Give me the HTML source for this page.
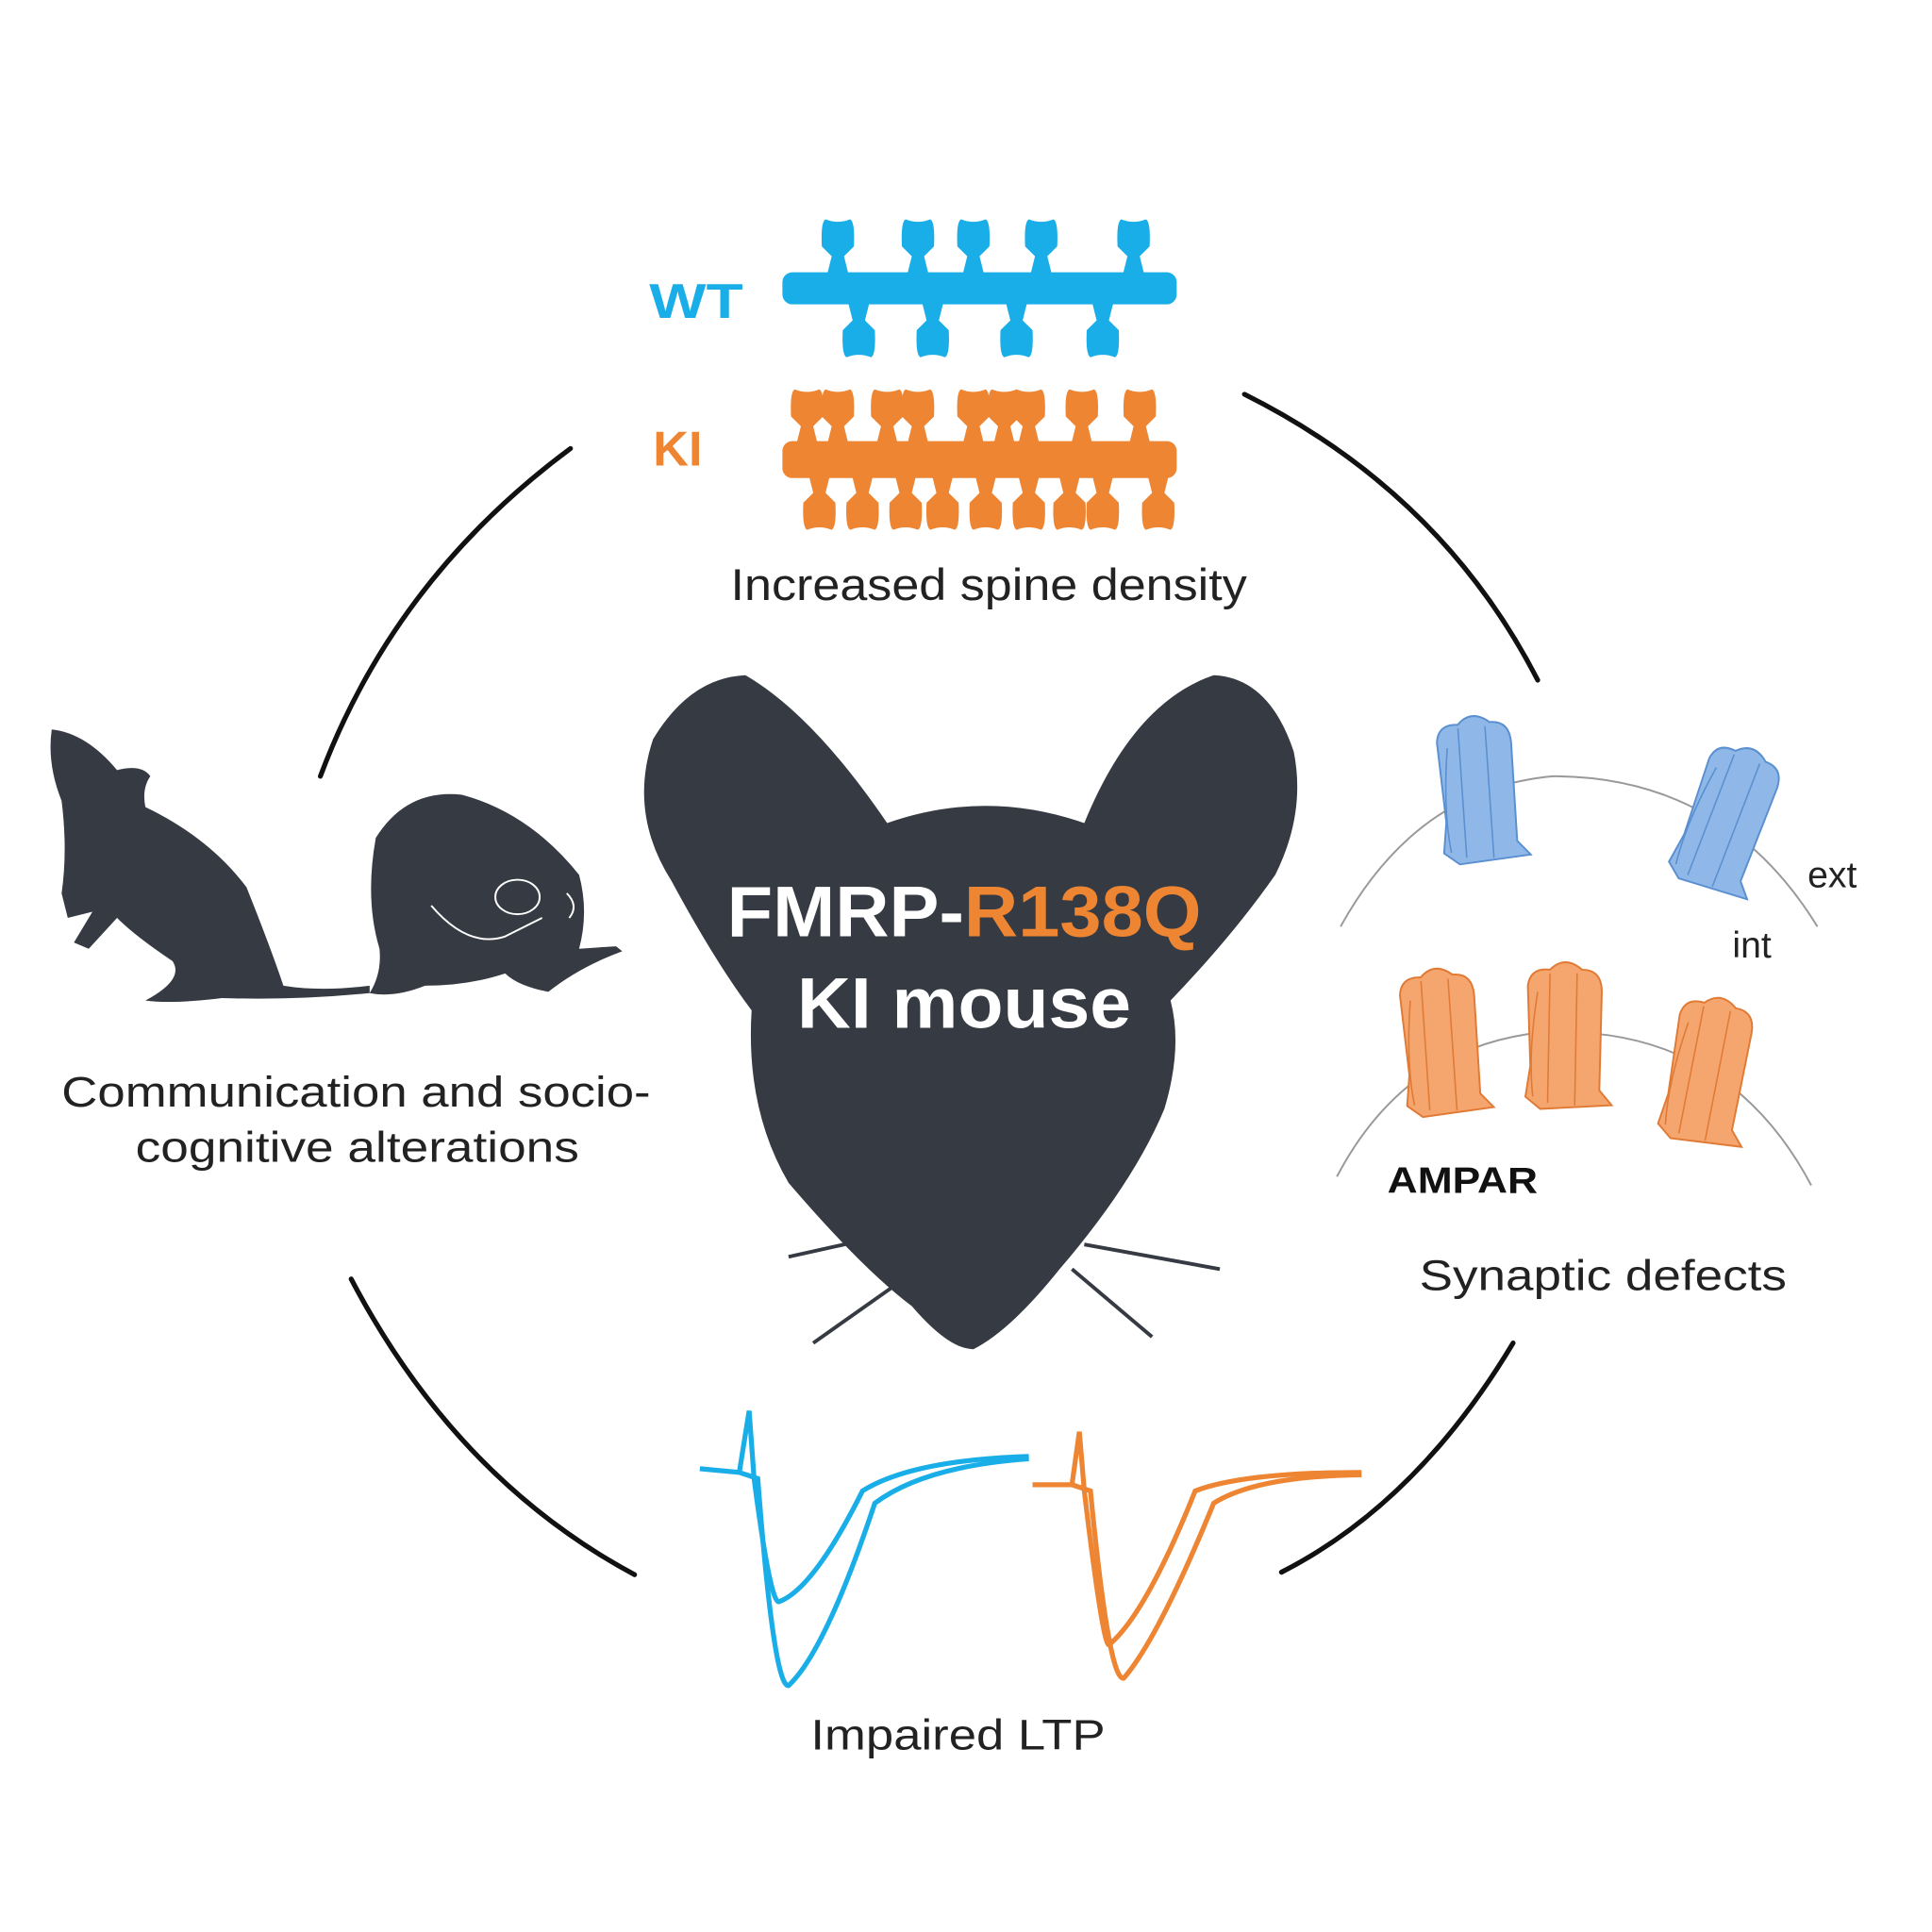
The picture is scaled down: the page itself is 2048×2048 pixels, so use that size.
<!DOCTYPE html>
<html><head><meta charset="utf-8"><style>
html,body{margin:0;padding:0;background:#fff}
svg{display:block}
text{font-family:"Liberation Sans",sans-serif}
</style></head><body>
<svg width="2048" height="2048" viewBox="0 0 1568 1568" xmlns="http://www.w3.org/2000/svg">
<rect width="1568" height="1568" fill="#fff"/>
<g fill="none" stroke="#111" stroke-width="4" stroke-linecap="round">
<path d="M463,364 Q320,470 260,630"/>
<path d="M1010,320 Q1170,400 1248,552"/>
<path d="M1228,1090 Q1150,1220 1040,1276"/>
<path d="M285,1038 Q370,1200 515,1278"/>
</g>
<g fill="#1aaee8">
<rect x="635" y="221" width="320" height="26" rx="8"/>
</g>
<g fill="#1aaee8" id="wtsp"></g>
<text x="527" y="258" font-size="40" font-weight="bold" fill="#1aaee8" textLength="76" lengthAdjust="spacingAndGlyphs">WT</text>
<g fill="#ee8533">
<rect x="635" y="358" width="320" height="30" rx="8"/>
</g>
<g fill="#ee8533" id="kisp"></g>
<text x="530" y="378" font-size="40" font-weight="bold" fill="#ee8533">KI</text>
<text x="593" y="487" font-size="36" fill="#222" textLength="419" lengthAdjust="spacingAndGlyphs">Increased spine density</text>
<path fill="#363a42" d="M720,668 Q660,580 605,548 Q560,550 530,600 Q510,660 545,715 Q580,780 610,820 Q605,900 640,960 Q700,1030 740,1060 Q770,1095 790,1095 Q820,1080 860,1030 Q920,960 945,900 Q960,850 950,812 Q1000,760 1035,710 Q1060,660 1050,610 Q1030,550 985,548 Q920,570 880,668 Q800,640 720,668 Z"/>
<g stroke="#363a42" stroke-width="3" fill="none">
<path d="M730,1000 L640,1020"/><path d="M745,1030 L660,1090"/><path d="M880,1010 L990,1030"/><path d="M870,1030 L935,1085"/>
</g>
<text x="590" y="760" font-size="58" font-weight="bold" fill="#fff" textLength="385" lengthAdjust="spacingAndGlyphs">FMRP-<tspan fill="#ee8533">R138Q</tspan></text>
<text x="647" y="834" font-size="58" font-weight="bold" fill="#fff" textLength="271" lengthAdjust="spacingAndGlyphs">KI mouse</text>
<path fill="#363a42" d="M42,592 Q70,595 95,625 Q115,620 122,630 Q115,640 118,655 Q170,680 200,720 Q220,770 230,800 Q260,805 300,800 L300,806 Q240,812 180,810 Q140,815 118,812 Q150,795 140,780 Q110,760 95,745 L72,770 L60,765 L75,740 L55,745 L50,725 Q55,690 50,650 Q38,620 42,592 Z"/>
<path fill="#363a42" d="M305,680 Q330,640 375,645 Q430,660 470,710 Q478,740 470,770 L500,768 L505,772 Q470,785 445,805 Q420,800 410,790 Q380,800 345,800 Q320,810 300,806 Q310,790 308,770 Q296,730 305,680 Z"/>
<g stroke="#fff" stroke-width="1.5" fill="none">
<path d="M350,735 Q380,770 410,760 L440,745"/><ellipse cx="420" cy="728" rx="18" ry="14"/><path d="M460,725 Q470,735 462,745"/>
</g>
<text x="50" y="898" font-size="35" fill="#222" textLength="478" lengthAdjust="spacingAndGlyphs">Communication and socio-</text>
<text x="110" y="943" font-size="35" fill="#222" textLength="360" lengthAdjust="spacingAndGlyphs">cognitive alterations</text>
<g fill="none" stroke="#999" stroke-width="1.5">
<path d="M1088,752 Q1150,640 1260,630 Q1400,630 1475,752"/>
<path d="M1085,955 Q1140,850 1250,838 Q1400,830 1470,962"/>
</g>
<g id="rec"></g>
<text x="1467" y="720" font-size="30" fill="#222">ext</text>
<text x="1406" y="777" font-size="30" fill="#222">int</text>
<text x="1126" y="968" font-size="30" font-weight="bold" fill="#111" textLength="122" lengthAdjust="spacingAndGlyphs">AMPAR</text>
<text x="1152" y="1047" font-size="35" fill="#222" textLength="298" lengthAdjust="spacingAndGlyphs">Synaptic defects</text>
<g fill="none" stroke="#1aaee8" stroke-width="4">
<path d="M568,1192 L600,1195 L608,1145 L612,1200 Q625,1300 632,1300 Q660,1290 700,1210 Q740,1185 835,1182"/>
<path d="M600,1195 L615,1200 Q628,1370 640,1368 Q670,1340 710,1220 Q750,1190 835,1184"/>
</g>
<g fill="none" stroke="#ee8533" stroke-width="4">
<path d="M838,1205 L870,1205 L876,1162 L880,1210 Q895,1335 900,1335 Q930,1310 970,1210 Q1010,1195 1105,1195"/>
<path d="M870,1205 L885,1210 Q900,1365 912,1362 Q940,1330 985,1220 Q1020,1198 1105,1197"/>
</g>
<text x="658" y="1420" font-size="35" fill="#222" textLength="239" lengthAdjust="spacingAndGlyphs">Impaired LTP</text>
</svg>
<script>
const NS="http://www.w3.org/2000/svg";
function spine(g,x,y,up,col){
  const p=document.createElementNS(NS,'path');
  const s=up?-1:1;
  p.setAttribute('d',`M${x-9},${y} L${x-5},${y+s*16} L${x-13},${y+s*24} Q${x-14},${y+s*44} ${x-10},${y+s*46} Q${x},${y+s*42} ${x+10},${y+s*46} Q${x+14},${y+s*44} ${x+13},${y+s*24} L${x+5},${y+s*16} L${x+9},${y} Z`);
  p.setAttribute('fill',col);
  
  
  g.appendChild(p);
}
const wtTop=[680,745,790,845,920], wtBot=[697,757,825,895];
const kiTop=[655,680,720,745,790,815,835,878,925], kiBot=[665,700,735,765,800,835,868,895,940];
const wg=document.getElementById('wtsp'), kg=document.getElementById('kisp');
wtTop.forEach(x=>spine(wg,x,224,true,'#1aaee8'));
wtBot.forEach(x=>spine(wg,x,244,false,'#1aaee8'));
kiTop.forEach(x=>spine(kg,x,362,true,'#ee8533'));
kiBot.forEach(x=>spine(kg,x,384,false,'#ee8533'));
const rg=document.getElementById('rec');
const recs=[[1200,645,-5,'#8fb8e8','#5a8fd0'],[1400,668,20,'#8fb8e8','#5a8fd0'],[1170,850,-5,'#f5a66e','#e07a35'],[1270,845,0,'#f5a66e','#e07a35'],[1385,873,10,'#f5a66e','#e07a35']];
recs.forEach(r=>{
  const g=document.createElementNS(NS,'g');
  g.setAttribute('transform',`translate(${r[0]},${r[1]}) rotate(${r[2]})`);
  
  
  g.innerHTML=`<path d="M-30,-45 Q-28,-60 -12,-58 Q0,-70 14,-58 Q30,-58 30,-40 L28,40 L38,52 L-20,55 L-32,45 L-28,20 Z" fill="${r[3]}" stroke="${r[4]}" stroke-width="1.5"/><path d="M-12,-55 L-14,50 M10,-55 L8,52 M-22,-40 Q-30,10 -26,45" stroke="${r[4]}" stroke-width="1.2" fill="none"/>`;
  rg.appendChild(g);
});
</script>
</body></html>
